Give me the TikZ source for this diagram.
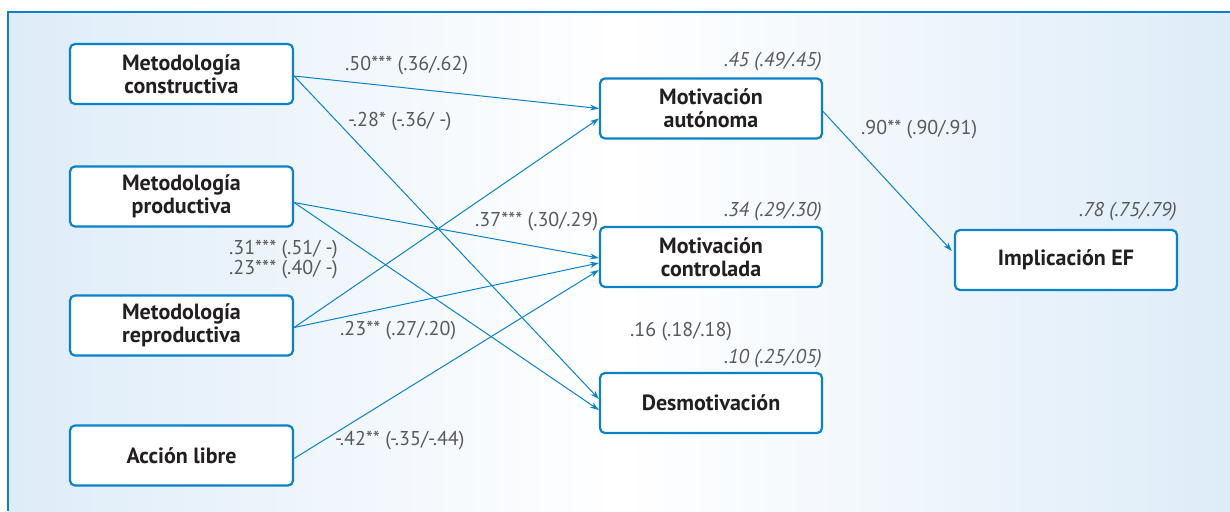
\documentclass[tikz,border=0pt]{standalone}
\usepackage{fontspec}
\setmainfont{PT Sans}
\usetikzlibrary{arrows.meta}
\definecolor{frameblue}{RGB}{10,130,200}
\definecolor{bgblue}{RGB}{222,236,248}
\definecolor{labelgray}{RGB}{88,89,91}
\definecolor{boxtext}{RGB}{35,31,32}
\tikzset{
  box/.style={draw=frameblue, line width=2.2pt, rounded corners=5pt, fill=white,
    minimum width=223pt, minimum height=60pt, align=center, inner sep=0pt,
    font=\fontsize{22}{23}\selectfont\bfseries, text=boxtext},
  conn/.style={draw=frameblue, line width=1pt, -{Stealth[length=9pt,width=6pt]}},
  lab/.style={font=\fontsize{20}{21}\selectfont, text=labelgray, inner sep=0pt},
  rsq/.style={font=\fontsize{20}{21}\selectfont\itshape, text=labelgray, inner sep=0pt, anchor=east}
}
\begin{document}
\begin{tikzpicture}[x=1pt,y=-1pt]
\useasboundingbox (0,0) rectangle (1230,511);
\shade[left color=bgblue, right color=bgblue, middle color=white] (8,12) rectangle (1230,511);
\draw[frameblue, line width=1.5pt] (8,511) -- (8,12) -- (1230,12);

\node[box] (c1) at (181.5,74) {Metodología\\constructiva};
\node[box] (c2) at (181.5,196.5) {Metodología\\productiva};
\node[box] (c3) at (181.5,325.5) {Metodología\\reproductiva};
\node[box] (c4) at (181.5,455.5) {Acción libre};
\node[box, minimum width=222pt] (ma) at (711,108.5) {Motivación\\autónoma};
\node[box, minimum width=222pt] (mc) at (711,257) {Motivación\\controlada};
\node[box, minimum width=222pt] (dm) at (711,403) {Desmotivación};
\node[box, minimum width=222pt] (ie) at (1066,260) {Implicación EF};

\draw[conn] ([yshift=-2pt]c1.east) -- (ma.west);
\draw[conn] ([yshift=-2pt]c1.east) -- ([yshift=4pt]dm.west);
\draw[conn] ([yshift=-6pt]c2.east) -- ([yshift=-1pt]mc.west);
\draw[conn] ([yshift=-6pt]c2.east) -- ([yshift=-7pt]dm.west);
\draw[conn] ([yshift=-2pt]c3.east) -- ([yshift=-10pt]ma.west);
\draw[conn] ([yshift=-2pt]c3.east) -- ([yshift=-6pt]mc.west);
\draw[conn] ([yshift=-3pt]c4.east) -- ([yshift=-13pt]mc.west);
\draw[conn] ([yshift=-3pt]ma.east) -- ([xshift=-2pt,yshift=9pt]ie.west);

\node[lab, anchor=west] (l1) at (345,66) {.50*** (.36/.62)};
\node[lab, anchor=west] (l2) at (348,122) {-.28* (-.36/ -)};
\node[lab, anchor=west] (l3) at (475,222) {.37*** (.30/.29)};
\node[lab, anchor=east] (l4) at (338,250) {.31*** (.51/ -)};
\node[lab, anchor=east] (l5) at (338,270) {.23*** (.40/ -)};
\node[lab, anchor=west] (l6) at (340,331) {.23** (.27/.20)};
\node[lab, anchor=west] (l7) at (335,441) {-.42** (-.35/-.44)};
\node[lab, anchor=west] (l8) at (630,332) {.16 (.18/.18)};
\node[lab, anchor=west] (l9) at (861,130) {.90** (.90/.91)};

\node[rsq] (r1) at (822,62) {.45 (.49/.45)};
\node[rsq] (r2) at (822,212) {.34 (.29/.30)};
\node[rsq] (r3) at (822,359) {.10 (.25/.05)};
\node[rsq] (r4) at (1177,212) {.78 (.75/.79)};
\end{tikzpicture}
\end{document}
